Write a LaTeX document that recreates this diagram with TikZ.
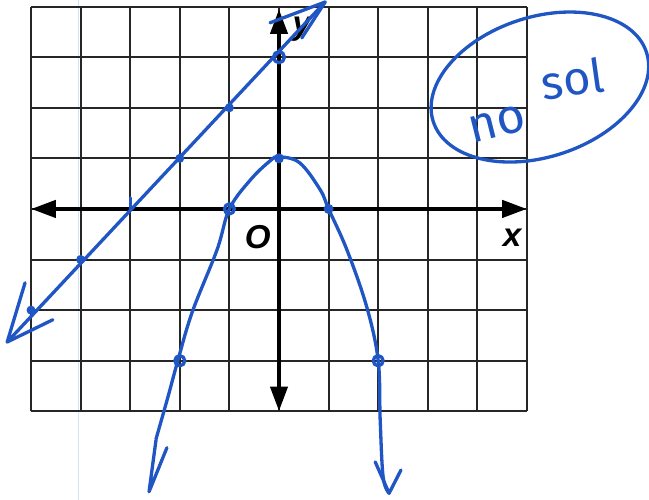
\documentclass[tikz,border=0pt]{standalone}
\usepackage{fontspec}
\newfontfamily\axisfont{Liberation Sans}
\newfontfamily\handfont{Fira Sans}
\usetikzlibrary{arrows.meta}
\definecolor{ink}{RGB}{32,86,196}
\definecolor{paperline}{RGB}{210,228,242}

\begin{document}
\begin{tikzpicture}[
    x=1cm, y=1.02cm,
    gridline/.style={line width=1.1pt,black!85},
    axis/.style={line width=2.6pt,{Triangle[length=5mm,width=3.4mm]}-{Triangle[length=5mm,width=3.4mm]}},
    pen/.style={draw=ink,line width=1.9pt,line cap=round,line join=round},
    lbl/.style={font=\axisfont\bfseries\itshape\fontsize{19}{19}\selectfont,inner sep=0pt},
    hand/.style={text=ink,inner sep=0pt}
]
\useasboundingbox (-5.625,-5.75) rectangle (7.46,4.13);

% paper and grid
\draw[paperline,line width=0.6pt] (-4.05,-5.75) -- (-4.05,4.13);
\foreach \i in {-5,...,5}
    \draw[gridline] (\i,-4) -- (\i,4);
\foreach \j in {-4,...,4}
    \draw[gridline] (-5,\j) -- (5,\j);
\draw[axis] (-5,0) -- (5,0);
\draw[axis] (0,-4) -- (0,3.95);
\node[lbl] (ylab) at (0.46,3.55) {y};
\node[lbl] (xlab) at (4.7,-0.56) {x};
\node[lbl] (orig) at (-0.43,-0.56) {O};

% line y = x + 3
\coordinate (ltip) at (-5.48,-2.63);
\coordinate (ltop) at (0.93,4.09);
\draw[pen] (ltip) -- (ltop);
\draw[pen] (-5.12,-1.46) -- (ltip) -- (-4.56,-2.19);
\draw[pen] (-0.18,3.68) -- (ltop) -- (0.46,3.38);
\draw[pen] (0,3) circle (0.11);
\foreach \p in {(-1,2),(-2,1),(-4,-1),(-5,-2)}
    \fill[ink] \p circle (0.09);
\draw[pen] (-3,0) -- (-3,0.22);

% parabola y = 1 - x^2
\coordinate (ptipl) at (-2.62,-5.59);
\coordinate (ptipr) at (2.22,-5.62);
\draw[pen] plot[smooth,tension=0.6] coordinates {
    (-2.48,-4.55) (-2.24,-3.72) (-2.04,-3.0) (-1.75,-2.04) (-1.25,-0.81)
    (-1,0) (-0.58,0.57) (-0.18,0.95) (0,1.03) (0.42,0.91) (0.83,0.38)
    (1,0) (1.37,-0.81) (1.77,-1.94) (2,-3) (2.04,-4.17) (2.1,-5.3) (ptipr)};
\draw[pen] (-2.48,-4.57) -- (ptipl) -- (-2.26,-4.72);
\draw[pen] (1.94,-5.0) -- (ptipr) -- (2.46,-5.16);
\foreach \p in {(-1,0),(-2,-3),(2,-3)}
    \draw[pen] \p circle (0.1);
\foreach \p in {(0,1),(1,0)}
    \fill[ink] \p circle (0.1);

% answer
\node[hand,font=\handfont\fontsize{28}{28}\selectfont,rotate=14] (no) at (4.4,1.68) {no};
\node[hand,font=\handfont\fontsize{27}{27}\selectfont,rotate=8] (sol) at (5.92,2.58) {sol};
\draw[pen] (5.26,2.41) ellipse[x radius=2.26cm,y radius=1.41cm,rotate=18];
\end{tikzpicture}
\end{document}
